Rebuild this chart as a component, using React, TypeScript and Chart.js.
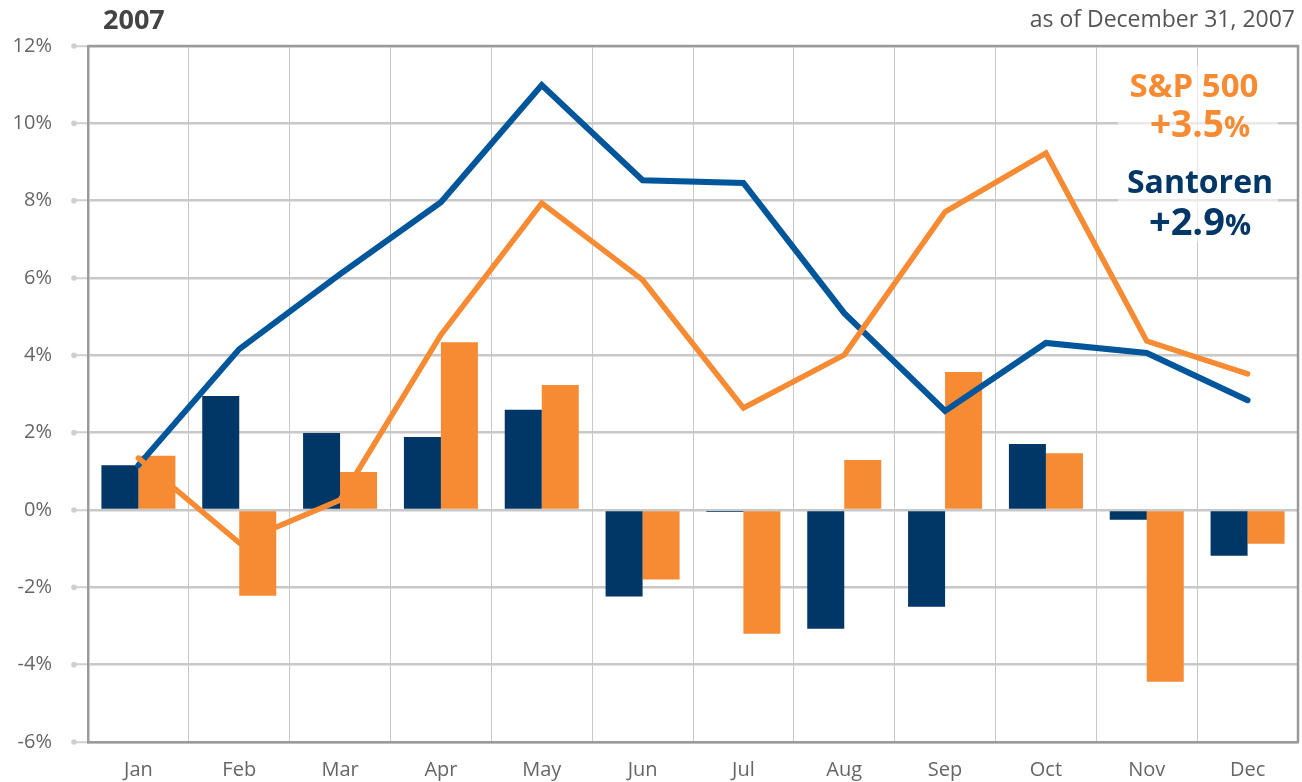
import React, { useEffect, useRef } from "react";
import { Chart, registerables } from "chart.js";

Chart.register(...registerables);

const months = ["Jan", "Feb", "Mar", "Apr", "May", "Jun", "Jul", "Aug", "Sep", "Oct", "Nov", "Dec"];
const santorenMonthly = [1.16, 2.95, 1.99, 1.89, 2.59, -2.24, -0.05, -3.07, -2.5, 1.71, -0.25, -1.18];
const spMonthly = [1.4, -2.22, 0.98, 4.34, 3.23, -1.8, -3.2, 1.29, 3.57, 1.47, -4.44, -0.87];
const santorenCumulative = [1.16, 4.16, 6.1, 7.96, 10.99, 8.53, 8.46, 5.09, 2.56, 4.32, 4.06, 2.84];
const spCumulative = [1.34, -0.85, 0.26, 4.53, 7.94, 5.95, 2.64, 4.01, 7.71, 9.23, 4.37, 3.52];
const yMin = -6;
const yMax = 12;
const yStep = 2;

const NAVY = "#003767";
const BLUE = "#00569A";
const ORANGE = "#F68B33";
const FONT = "'Open Sans', 'Noto Sans', sans-serif";

const frame = {
  id: "frame",
  beforeDatasetsDraw(chart: any) {
    const { ctx, chartArea } = chart;
    const ys = chart.scales.y;
    ctx.save();
    ctx.fillStyle = "#cfcfcf";
    for (let v = yMin; v <= yMax; v += yStep) {
      const y = ys.getPixelForValue(v);
      ctx.beginPath();
      ctx.arc(chartArea.left - 14, y, 2.8, 0, Math.PI * 2);
      ctx.fill();
    }
    ctx.strokeStyle = "#9a9a9a";
    ctx.lineWidth = 2.5;
    ctx.beginPath();
    ctx.moveTo(chartArea.left, chartArea.top);
    ctx.lineTo(chartArea.right, chartArea.top);
    ctx.lineTo(chartArea.right, chartArea.bottom);
    ctx.stroke();
    ctx.restore();
  },
};

export default function App() {
  const ref = useRef<HTMLCanvasElement>(null);
  useEffect(() => {
    document.body.style.margin = "0";
    const chart = new Chart(ref.current as HTMLCanvasElement, {
      type: "bar",
      data: {
        labels: months,
        datasets: [
          {
            type: "line",
            label: "S&P 500 cumulative",
            data: spCumulative,
            borderColor: ORANGE,
            borderWidth: 5.5,
            pointRadius: 0,
            tension: 0,
            borderCapStyle: "round",
            order: 0,
          } as any,
          {
            type: "line",
            label: "Santoren cumulative",
            data: santorenCumulative,
            borderColor: BLUE,
            borderWidth: 6,
            pointRadius: 0,
            tension: 0,
            borderCapStyle: "round",
            order: 1,
          } as any,
          {
            label: "Santoren",
            data: santorenMonthly,
            backgroundColor: NAVY,
            categoryPercentage: 0.734,
            barPercentage: 1,
            order: 2,
          },
          {
            label: "S&P 500",
            data: spMonthly,
            backgroundColor: ORANGE,
            categoryPercentage: 0.734,
            barPercentage: 1,
            order: 3,
          },
        ],
      },
      options: {
        animation: false,
        responsive: false,
        devicePixelRatio: 1,
        layout: { padding: { top: 46, right: 4, left: 0, bottom: 0 } },
        plugins: { legend: { display: false }, tooltip: { enabled: false } },
        scales: {
          x: {
            offset: true,
            grid: { color: "#c8c8c8", lineWidth: 1, offset: true, drawTicks: false },
            border: { color: "#9a9a9a", width: 2.5 },
            ticks: { color: "#666", font: { family: FONT, size: 20 }, padding: 16 },
            afterFit: (s: any) => { s.height = 40; },
          },
          y: {
            min: yMin,
            max: yMax,
            ticks: {
              stepSize: yStep,
              color: "#666",
              font: { family: FONT, size: 20 },
              padding: 22,
              callback: (v: any) => v + "%",
            },
            grid: { color: "#c8c8c8", lineWidth: 2.5, tickLength: 14, tickColor: "#cfcfcf", tickWidth: 2 },
            border: { color: "#9a9a9a", width: 2.5 },
            afterFit: (s: any) => { s.width = 88; },
          },
        },
      },
      plugins: [frame],
    });
    return () => chart.destroy();
  }, []);

  const abs = (extra: any) => ({ position: "absolute" as const, fontFamily: FONT, whiteSpace: "nowrap" as const, ...extra });

  return (
    <div style={{ position: "relative", width: 1302, height: 782 }}>
      <canvas ref={ref} width={1302} height={782} style={{ display: "block" }} />
      <div style={abs({ left: 103, top: 5, fontSize: 27, lineHeight: "27px", fontWeight: 700, color: "#444" })}>2007</div>
      <div style={abs({ right: 7, top: 7, fontSize: 23, lineHeight: "23px", color: "#555" })}>as of December 31, 2007</div>
      <div style={abs({ left: 1118, top: 66, width: 160, height: 176, background: "rgba(255,255,255,0.6)" })} />
      <div style={abs({ left: 1094, width: 200, textAlign: "center", top: 68, fontSize: 33, lineHeight: "33px", fontWeight: 700, color: ORANGE })}>S&amp;P 500</div>
      <div style={abs({ left: 1100, width: 200, textAlign: "center", top: 104, fontSize: 37, lineHeight: "37px", fontWeight: 700, color: ORANGE })}>
        +3.5<span style={{ fontSize: 29 }}>%</span>
      </div>
      <div style={abs({ left: 1100, width: 200, textAlign: "center", top: 165, fontSize: 32, lineHeight: "32px", fontWeight: 700, color: NAVY })}>Santoren</div>
      <div style={abs({ left: 1100, width: 200, textAlign: "center", top: 201, fontSize: 38, lineHeight: "38px", fontWeight: 700, color: NAVY })}>
        +2.9<span style={{ fontSize: 29 }}>%</span>
      </div>
    </div>
  );
}
